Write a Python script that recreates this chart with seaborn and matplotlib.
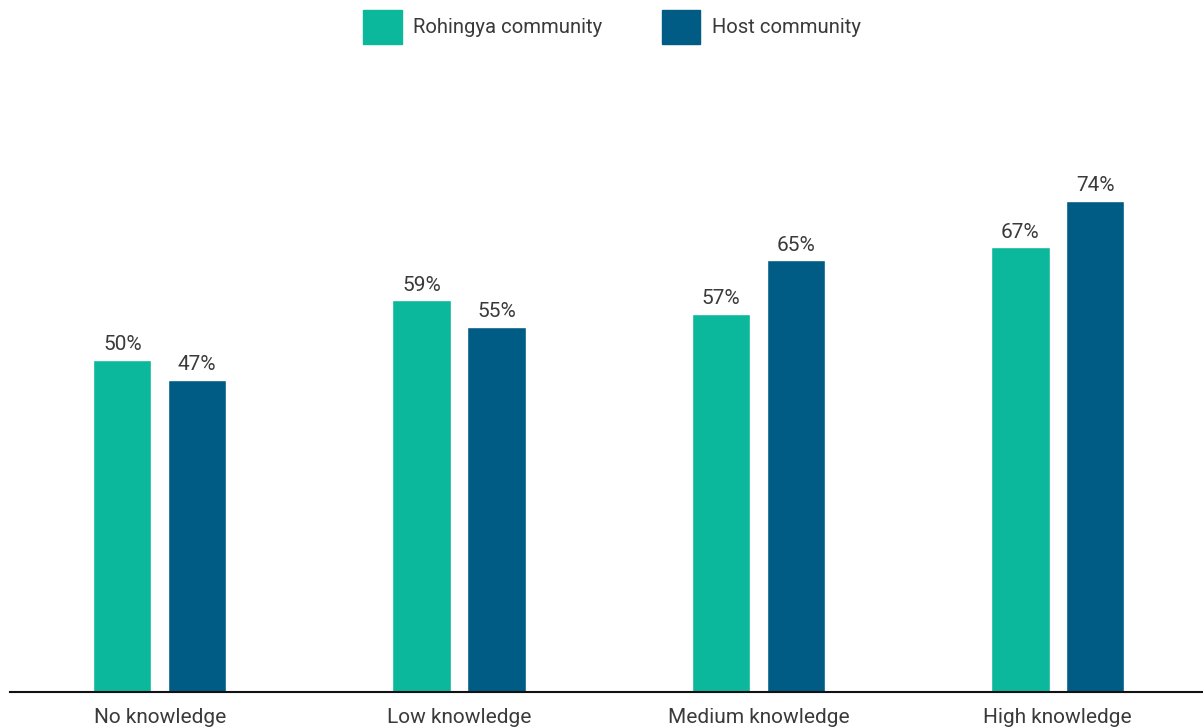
import matplotlib
matplotlib.use("Agg")
import matplotlib.pyplot as plt
import seaborn as sns
import pandas as pd

categories = ["No knowledge", "Low knowledge", "Medium knowledge", "High knowledge"]
rohingya = [50, 59, 57, 67]
host = [47, 55, 65, 74]
series_names = ["Rohingya community", "Host community"]
colors = ["#0bb89c", "#005c84"]

df = pd.DataFrame({
    "knowledge": categories * 2,
    "value": rohingya + host,
    "group": [series_names[0]] * 4 + [series_names[1]] * 4,
})

sns.set_theme(style="white")
plt.rcParams["font.family"] = ["Roboto", "DejaVu Sans"]
text_color = "#3a3a3a"
fs = 15.0
legend_fs = 14.6

fig = plt.figure(figsize=(12.03, 7.28), dpi=100)
ax = fig.add_axes([10 / 1203, 36 / 728, 1193 / 1203, 592 / 728])

sns.barplot(data=df, x="knowledge", y="value", hue="group",
            order=categories, hue_order=series_names, palette=colors,
            width=0.5, gap=0.22, saturation=1, legend=False, ax=ax)

for container in ax.containers:
    ax.bar_label(container, labels=[f"{v:.0f}%" for v in container.datavalues],
                 padding=4, fontsize=fs, color=text_color)

ax.set_xlim(-0.5, 3.485)
ax.set_ylim(0, 592 / 6.64)
ax.set_xlabel("")
ax.set_ylabel("")
ax.set_yticks([])
ax.tick_params(axis="x", length=0, pad=11.5, labelsize=fs, labelcolor=text_color)
for side in ["top", "left", "right"]:
    ax.spines[side].set_visible(False)
ax.spines["bottom"].set_color("#111111")
ax.spines["bottom"].set_linewidth(1.5)

handles = [plt.Rectangle((0, 0), 1, 1, color=c) for c in colors]
leg = fig.legend(handles, series_names, loc="center",
                 bbox_to_anchor=(612 / 1203, 1 - 27 / 728), ncol=2, frameon=False,
                 fontsize=legend_fs, handlelength=1.92, handleheight=2.25,
                 handletextpad=0.55, columnspacing=2.9)
for t in leg.get_texts():
    t.set_color(text_color)

fig.savefig("out.png", dpi=100)
